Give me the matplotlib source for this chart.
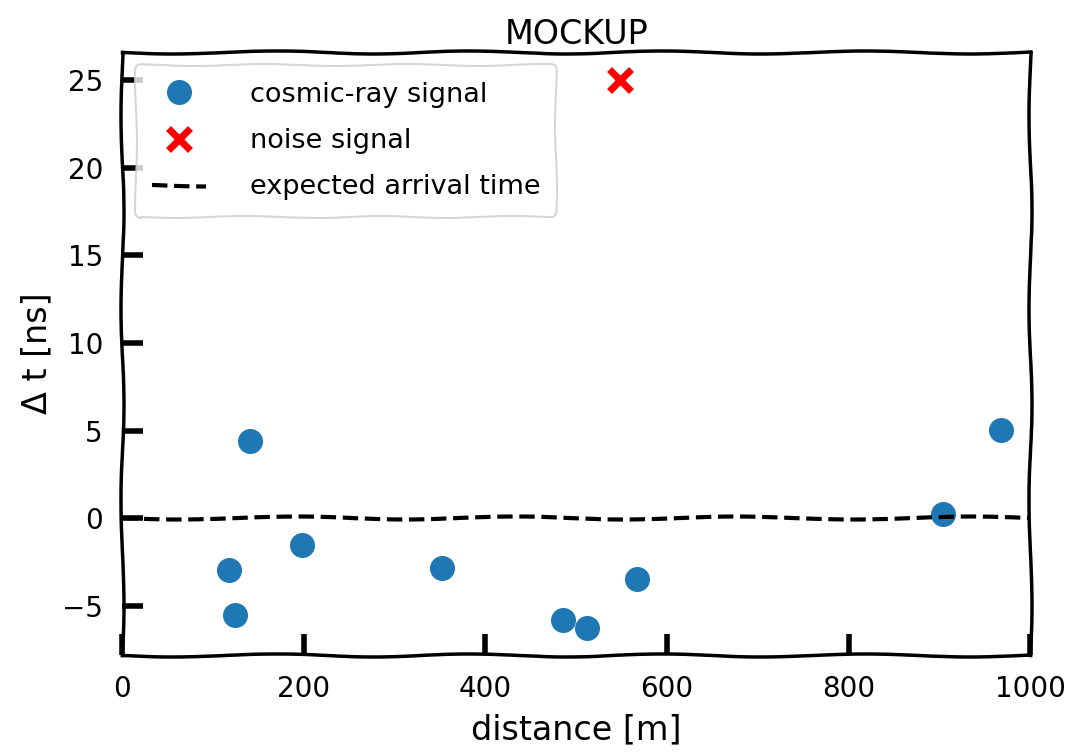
import matplotlib
matplotlib.use('Agg')
import matplotlib.pyplot as plt
import numpy as np

# cosmic-ray signals
dist = [118, 124, 141, 198, 352, 486, 512, 567, 904, 968]
dt = [-2.97, -5.54, 4.39, -1.54, -2.85, -5.82, -6.28, -3.48, 0.23, 5.02]

# noise signal
noise_dist = [548]
noise_dt = [25.0]

# expected arrival time
exp_dist = [0, 1000]
exp_dt = [0, 0]

np.random.seed(3)
plt.rcParams['font.family'] = ['DejaVu Sans']
fig = plt.figure(figsize=(10.73, 7.53), dpi=100)
ax = fig.add_axes([0.114, 0.130, 0.846, 0.801])

ax.plot(dist, dt, 'o', color='#1f77b4', markersize=17, label='cosmic-ray signal')
ax.plot(noise_dist, noise_dt, 'x', color='red', markersize=16, mew=5,
        label='noise signal')
line, = ax.plot(exp_dist, exp_dt, '--', color='black', lw=3,
                label='expected arrival time')
line.set_sketch_params(1.5, 250, 2)

ax.set_xlim(0, 1000)
ax.set_ylim(-7.8, 26.6)
ax.set_xticks([0, 200, 400, 600, 800, 1000])
ax.set_yticks([-5, 0, 5, 10, 15, 20, 25])
ax.tick_params(direction='in', length=15, width=4, labelsize=20, pad=14)
for s in ax.spines.values():
    s.set_linewidth(2.5)
    s.set_sketch_params(1.5, 220, 2)

ax.set_title('MOCKUP', fontsize=24, pad=6)
ax.set_xlabel('distance [m]', fontsize=24, labelpad=8)
ax.set_ylabel('Δ t [ns]', fontsize=24, labelpad=6)
leg = ax.legend(loc='upper left', fontsize=19.5, borderpad=0.6, labelspacing=0.75,
                handletextpad=1.6)
frame = leg.get_frame()
frame.set_edgecolor('#cccccc')
frame.set_linewidth(1.5)
frame.set_sketch_params(1, 150, 2)

fig.savefig('out.png', dpi=100)
